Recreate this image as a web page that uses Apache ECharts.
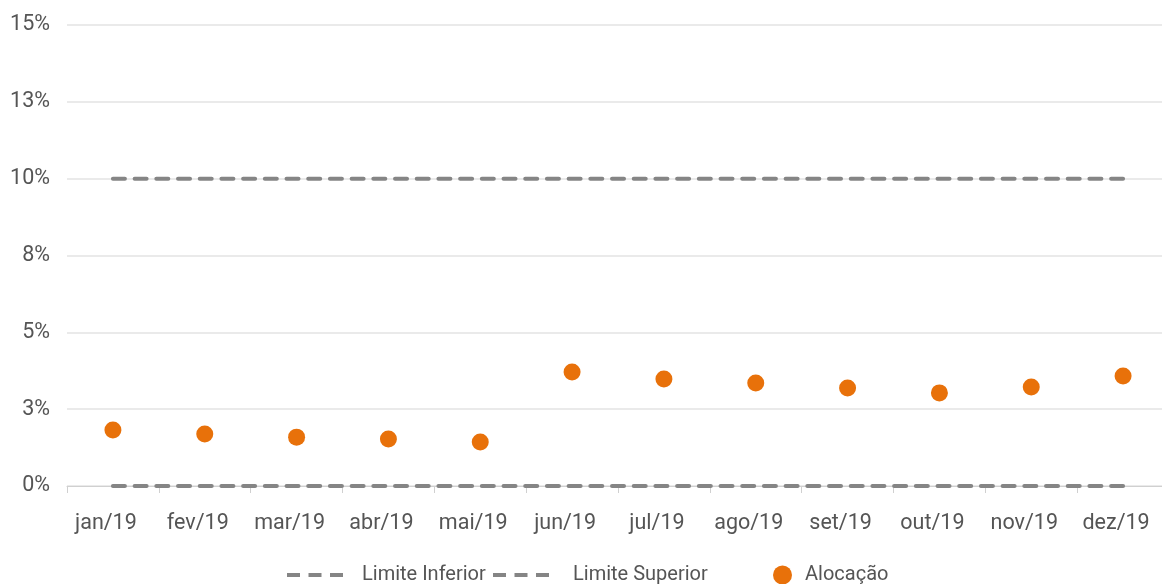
<!DOCTYPE html>
<html>
<head>
<meta charset="utf-8">
<script src="https://cdn.jsdelivr.net/npm/echarts@6/dist/echarts.min.js"></script>
<style>
  html, body { margin: 0; padding: 0; background: #fff; }
  #main { width: 1162px; height: 584px; }
</style>
</head>
<body>
<div id="main"></div>
<script>
  // dados
  var meses = ['jan/19', 'fev/19', 'mar/19', 'abr/19', 'mai/19', 'jun/19', 'jul/19', 'ago/19', 'set/19', 'out/19', 'nov/19', 'dez/19'];
  var limiteInferior = [0, 0, 0, 0, 0, 0, 0, 0, 0, 0, 0, 0];
  var limiteSuperior = [10, 10, 10, 10, 10, 10, 10, 10, 10, 10, 10, 10];
  var alocacao = [1.82, 1.69, 1.59, 1.53, 1.43, 3.71, 3.48, 3.35, 3.19, 3.03, 3.22, 3.58];

  var cinza = '#858585';
  var laranja = '#e8710a';
  var fonte = 'Roboto';
  var corTexto = '#555';

  // icone tracejado da legenda (3 tracos)
  var iconeTracejado = 'path://M0,0h13v4h-13z M21.5,0h13v4h-13z M43,0h13v4h-13z';

  var myChart = echarts.init(document.getElementById('main'));

  var linhaLimite = {
    color: cinza,
    width: 4,
    type: [12, 9.7],
    cap: 'round'
  };

  function legenda(nome, esquerda, icone, larg, alt, espaco, cor) {
    return {
      data: [{ name: nome, icon: icone }],
      left: esquerda,
      top: 560,
      itemWidth: larg,
      itemHeight: alt,
      itemStyle: { color: cor },
      textStyle: { fontFamily: fonte, fontSize: 20, color: corTexto, padding: [0, 0, 0, espaco] }
    };
  }

  var option = {
    animation: false,
    textStyle: { fontFamily: fonte },
    grid: {
      left: 67,
      top: 25,
      right: -7,
      bottom: 98,
      outerBoundsMode: 'none'
    },
    legend: [
      legenda('Limite Inferior', 282, iconeTracejado, 56, 4, 14, cinza),
      legenda('Limite Superior', 488, iconeTracejado, 56, 4, 19, cinza),
      legenda('Alocação', 768, 'circle', 19, 19, 8, laranja)
    ],
    xAxis: {
      type: 'category',
      data: meses,
      boundaryGap: true,
      axisLine: { lineStyle: { color: '#d0d0d0' } },
      axisTick: { show: true, length: 7, lineStyle: { color: '#d0d0d0' } },
      axisLabel: {
        color: corTexto,
        fontSize: 21.5,
        margin: 27,
        interval: 0,
        padding: [0, 14, 0, 0],
        fontFamily: fonte
      }
    },
    yAxis: {
      type: 'value',
      min: 0,
      max: 15,
      interval: 2.5,
      axisLine: { show: false },
      axisTick: { show: false },
      splitLine: { lineStyle: { color: '#e3e3e3', width: 1.5 } },
      axisLabel: {
        color: corTexto,
        fontSize: 21.5,
        margin: 17,
        fontFamily: fonte,
        formatter: function (v) {
          return Math.round(v) + '%';
        }
      }
    },
    series: [
      {
        name: 'Limite Inferior',
        type: 'line',
        data: limiteInferior,
        symbol: 'none',
        itemStyle: { color: cinza },
        lineStyle: linhaLimite,
        z: 2
      },
      {
        name: 'Limite Superior',
        type: 'line',
        data: limiteSuperior,
        symbol: 'none',
        itemStyle: { color: cinza },
        lineStyle: linhaLimite,
        z: 2
      },
      {
        name: 'Alocação',
        type: 'scatter',
        data: alocacao,
        symbol: 'circle',
        symbolSize: 17,
        itemStyle: { color: laranja, opacity: 1 },
        z: 3
      }
    ]
  };

  myChart.setOption(option);
</script>
</body>
</html>
